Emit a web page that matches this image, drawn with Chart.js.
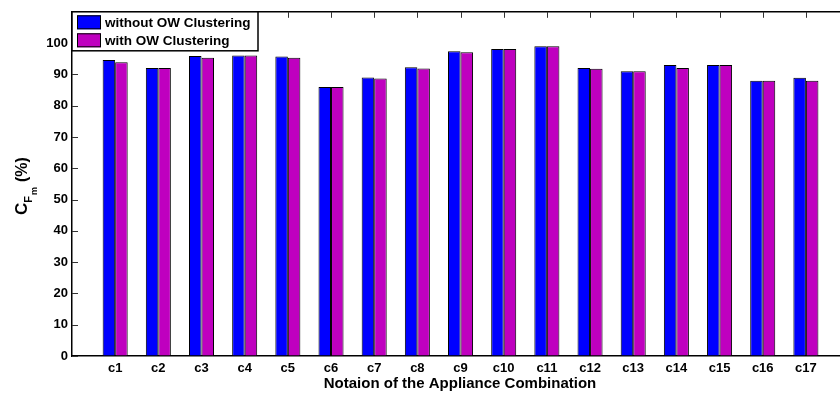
<!DOCTYPE html>
<html>
<head>
<meta charset="utf-8">
<script src="https://cdn.jsdelivr.net/npm/chart.js@4.4.0/dist/chart.umd.min.js"></script>
<style>
  html, body { margin: 0; padding: 0; background: #fff; overflow: hidden; }
  #wrap { width: 840px; height: 394px; }
</style>
</head>
<body>
<div id="wrap"><canvas id="cfChart" width="840" height="394"></canvas></div>
<script>
// appliance combinations and accuracy values (%)
const categories = ["c1", "c2", "c3", "c4", "c5", "c6", "c7", "c8", "c9",
  "c10", "c11", "c12", "c13", "c14", "c15", "c16", "c17"];
const withoutOW = [94.6, 92.0, 95.9, 96.0, 95.7, 86.0, 89.0, 92.3, 97.4,
  98.1, 99.0, 92.0, 91.0, 93.0, 93.0, 88.0, 88.9];
const withOW = [93.9, 92.0, 95.3, 96.0, 95.3, 86.0, 88.7, 91.9, 97.1,
  98.1, 99.0, 91.8, 91.0, 92.0, 93.0, 88.0, 88.0];
const yTicks = [0, 10, 20, 30, 40, 50, 60, 70, 80, 90, 100];

const FONT = "'Liberation Sans', Arial, sans-serif";
const BLUE = "#0000ff";
const MAGENTA = "#bf00bf";

const toPoints = (vals) => vals.map((v, i) => ({ x: i + 1, y: v }));

// MATLAB-style box: top border, inward ticks, legend and axis titles
const boxPlugin = {
  id: "boxPlugin",
  afterDraw(chart) {
    const { ctx, chartArea: a, scales } = chart;
    ctx.save();
    ctx.strokeStyle = "#000";
    ctx.lineWidth = 1.5;
    ctx.beginPath();
    ctx.moveTo(a.left, a.top);
    ctx.lineTo(a.right, a.top);
    ctx.stroke();

    // inward tick marks
    ctx.lineWidth = 1;
    ctx.strokeStyle = "#333";
    yTicks.forEach((t) => {
      const y = Math.round(scales.y.getPixelForValue(t)) + 0.5;
      ctx.beginPath();
      ctx.moveTo(a.left, y);
      ctx.lineTo(a.left + 6, y);
      ctx.stroke();
    });
    categories.forEach((c, i) => {
      const x = Math.round(scales.x.getPixelForValue(i + 1)) + 0.5;
      ctx.beginPath();
      ctx.moveTo(x, a.top);
      ctx.lineTo(x, a.top + 6);
      ctx.stroke();
    });

    // legend box
    const lx = a.left, ly = a.top, lw = 186, lh = 39;
    ctx.fillStyle = "#fff";
    ctx.fillRect(lx, ly, lw, lh);
    ctx.strokeStyle = "#000";
    ctx.lineWidth = 1.5;
    ctx.strokeRect(lx, ly, lw, lh);
    ctx.lineWidth = 1;
    ctx.font = "bold 13.5px " + FONT;
    ctx.textBaseline = "middle";
    ctx.textAlign = "left";
    chart.data.datasets.forEach((ds, i) => {
      const y = ly + 3.5 + i * 18;
      ctx.fillStyle = ds.backgroundColor;
      ctx.fillRect(lx + 5, y, 24, 14);
      ctx.strokeStyle = "#000";
      ctx.strokeRect(lx + 5.5, y + 0.5, 23, 13);
      ctx.fillStyle = "#000";
      ctx.fillText(ds.label, lx + 33, y + 7.5);
    });

    // x title
    ctx.font = "bold 15px " + FONT;
    ctx.textAlign = "center";
    ctx.textBaseline = "alphabetic";
    ctx.fillText("Notaion of the Appliance Combination", 460, 388);

    // y title: C with nested subscripts F and m, then (%)
    ctx.translate(0, 215);
    ctx.rotate(-Math.PI / 2);
    ctx.textAlign = "left";
    let x = 0;
    ctx.font = "bold 17px " + FONT;
    ctx.fillText("C", x, 27);
    x += ctx.measureText("C").width;
    ctx.font = "bold 11px " + FONT;
    ctx.fillText("F", x, 32);
    x += ctx.measureText("F").width + 1;
    ctx.font = "bold 9px " + FONT;
    ctx.fillText("m", x, 37);
    x += ctx.measureText("m").width + 5;
    ctx.font = "bold 16px " + FONT;
    ctx.fillText("(%)", x, 27);
    ctx.restore();
  }
};

const ctx = document.getElementById("cfChart").getContext("2d");
new Chart(ctx, {
  type: "bar",
  data: {
    datasets: [
      {
        label: "without OW Clustering",
        data: toPoints(withoutOW),
        backgroundColor: BLUE,
        borderColor: "#000",
        borderWidth: 1,
      },
      {
        label: "with OW Clustering",
        data: toPoints(withOW),
        backgroundColor: MAGENTA,
        borderColor: "#000",
        borderWidth: 1,
      },
    ],
  },
  options: {
    responsive: false,
    animation: false,
    devicePixelRatio: 1,
    categoryPercentage: 0.58,
    barPercentage: 1.0,
    layout: { padding: { top: 10, right: 0, left: 0, bottom: 0 } },
    plugins: {
      legend: { display: false },
      tooltip: { enabled: false },
    },
    scales: {
      x: {
        type: "linear",
        offset: false,
        min: 0,
        max: 17.79,
        afterBuildTicks: (s) => {
          s.ticks = categories.map((c, i) => ({ value: i + 1 }));
        },
        afterFit: (s) => { s.height = 38; },
        ticks: {
          autoSkip: false,
          maxRotation: 0,
          padding: 5,
          color: "#000",
          font: { family: FONT, size: 13, weight: "bold" },
          callback: (v) => categories[v - 1] || "",
        },
        grid: { drawOnChartArea: false, drawTicks: false },
        border: { color: "#000", width: 1.5 },
      },
      y: {
        min: 0,
        max: 110,
        afterBuildTicks: (s) => {
          s.ticks = yTicks.map((t) => ({ value: t }));
        },
        afterFit: (s) => { s.width = 72; },
        ticks: {
          padding: 4,
          color: "#000",
          font: { family: FONT, size: 13, weight: "bold" },
        },
        grid: { drawOnChartArea: false, drawTicks: false },
        border: { color: "#000", width: 1.5 },
      },
    },
  },
  plugins: [boxPlugin],
});
</script>
</body>
</html>
